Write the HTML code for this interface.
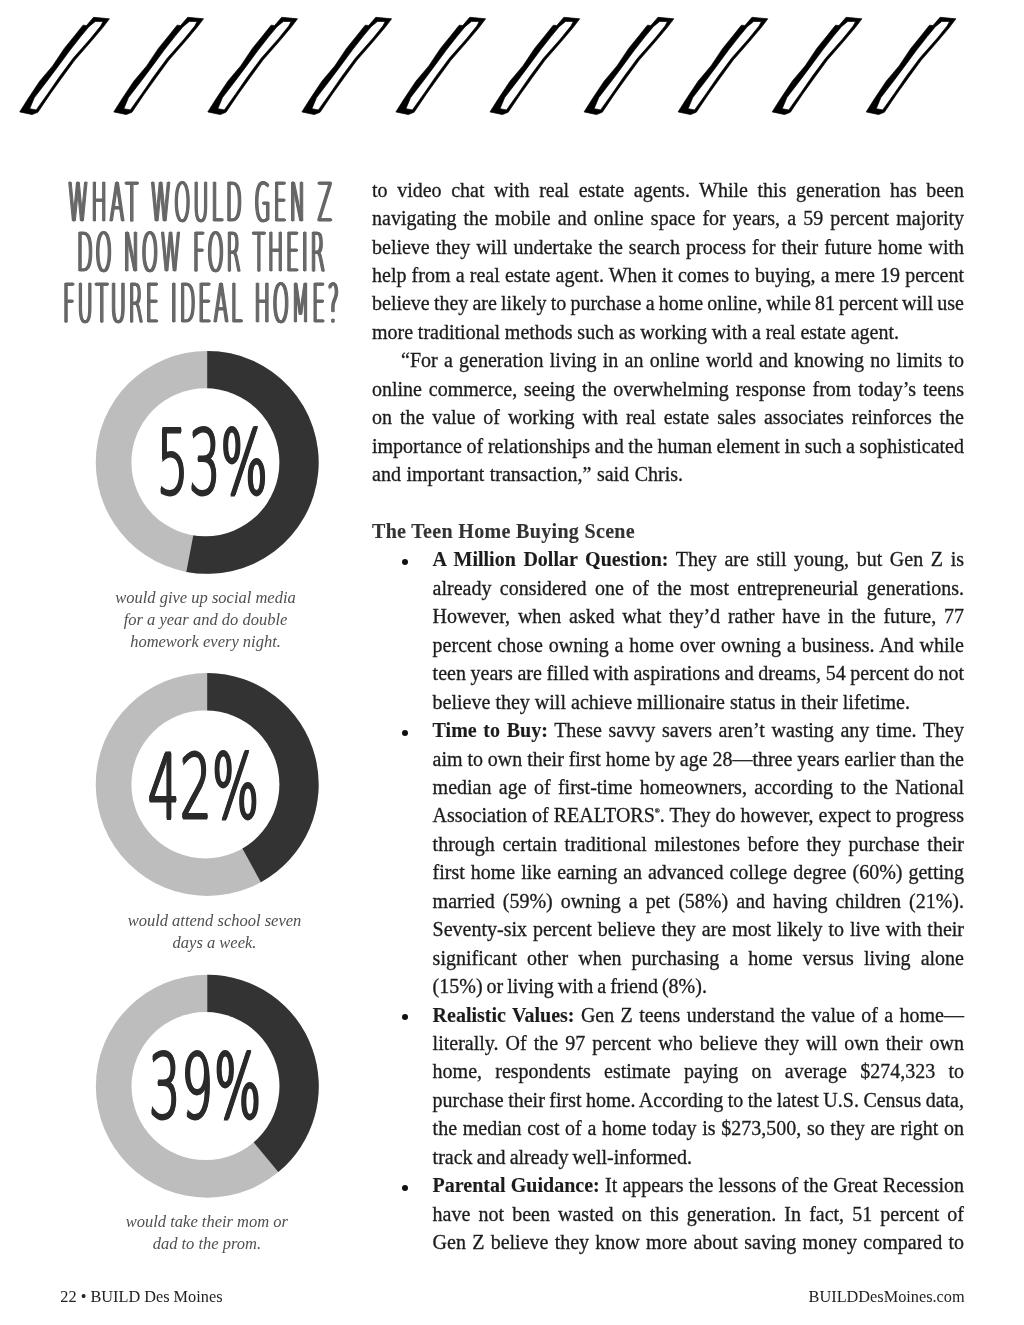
<!DOCTYPE html><html lang="en"><head><meta charset="utf-8"><title>BUILD Des Moines</title><style>
html,body{margin:0;padding:0;background:#fff;}
body{width:1024px;height:1325px;position:relative;overflow:hidden;font-family:"Liberation Serif",serif;color:#1c1c1c;}
.ln{position:absolute;white-space:nowrap;font-size:20px;line-height:28px;height:28px;-webkit-text-stroke:0.3px #1c1c1c;}
.ln b{font-weight:bold;-webkit-text-stroke:0.12px #1c1c1c;}
.hd{color:#333;}
.hd b{-webkit-text-stroke:0.12px #333;}
.ln sup{font-size:6.5px;line-height:0;vertical-align:9px;}
.bul{position:absolute;width:6px;height:6px;border-radius:50%;background:#111;left:402.3px;}
.hl{position:absolute;font-family:"DejaVu Sans Light","DejaVu Sans","Liberation Sans",sans-serif;font-weight:200;color:#666;white-space:nowrap;font-size:54px;line-height:60px;height:60px;transform-origin:0 0;-webkit-text-stroke:1.15px #666;text-shadow:1.6px 0 0 #666,-1.6px 0 0 #666,3.2px 0 0 #666,-3.2px 0 0 #666;}
.pc{position:absolute;font-family:"DejaVu Sans Light","DejaVu Sans","Liberation Sans",sans-serif;font-weight:200;color:#2a2a2a;white-space:nowrap;font-size:89px;line-height:100px;height:100px;transform-origin:0 0;-webkit-text-stroke:2.9px #2a2a2a;text-shadow:2.4px 0 0 #2a2a2a,-2.4px 0 0 #2a2a2a;}
.cap{position:absolute;left:56px;width:300px;text-align:center;font-style:italic;color:#4f4f4f;font-size:16.5px;line-height:21.8px;white-space:nowrap;}
.ft{position:absolute;font-size:16.3px;line-height:22px;white-space:nowrap;color:#222;}
svg{position:absolute;left:0;top:0;}
#pg{position:absolute;left:0;top:0;width:1024px;height:1325px;will-change:transform;}
</style></head><body><div id="pg">
<svg width="1024" height="1325" viewBox="0 0 1024 1325"><path transform="translate(-0.8,0)" fill="#000" stroke="#000" stroke-width="0.7" stroke-linejoin="round" fill-rule="evenodd" d="M94.4,17.3 L110.2,18.8 L103.8,27.3 L92.0,41.3 L75.6,60.1 L62.7,77.7 L51.0,94.0 L38.7,112.2 L32.9,114.6 L20.5,111.9 L28.8,98.8 L40.5,81.2 L53.4,65.9 L65.1,48.4 L75.6,35.5 L83.8,25.2 L87.3,25.5Z M96.1,21.4 L103.8,21.6 L101.4,26.1 L90.9,39.0 L73.9,58.3 L60.4,76.5 L48.7,93.5 L37.0,109.9 L30.5,108.7 L35.2,97.6 L48.7,80.0 L59.2,65.9 L70.9,50.1 L81.5,36.6 L89.7,26.7Z"/><path transform="translate(93.3,0)" fill="#000" stroke="#000" stroke-width="0.7" stroke-linejoin="round" fill-rule="evenodd" d="M94.4,17.3 L110.2,18.8 L103.8,27.3 L92.0,41.3 L75.6,60.1 L62.7,77.7 L51.0,94.0 L38.7,112.2 L32.9,114.6 L20.5,111.9 L28.8,98.8 L40.5,81.2 L53.4,65.9 L65.1,48.4 L75.6,35.5 L83.8,25.2 L87.3,25.5Z M96.1,21.4 L103.8,21.6 L101.4,26.1 L90.9,39.0 L73.9,58.3 L60.4,76.5 L48.7,93.5 L37.0,109.9 L30.5,108.7 L35.2,97.6 L48.7,80.0 L59.2,65.9 L70.9,50.1 L81.5,36.6 L89.7,26.7Z"/><path transform="translate(187.3,0)" fill="#000" stroke="#000" stroke-width="0.7" stroke-linejoin="round" fill-rule="evenodd" d="M94.4,17.3 L110.2,18.8 L103.8,27.3 L92.0,41.3 L75.6,60.1 L62.7,77.7 L51.0,94.0 L38.7,112.2 L32.9,114.6 L20.5,111.9 L28.8,98.8 L40.5,81.2 L53.4,65.9 L65.1,48.4 L75.6,35.5 L83.8,25.2 L87.3,25.5Z M96.1,21.4 L103.8,21.6 L101.4,26.1 L90.9,39.0 L73.9,58.3 L60.4,76.5 L48.7,93.5 L37.0,109.9 L30.5,108.7 L35.2,97.6 L48.7,80.0 L59.2,65.9 L70.9,50.1 L81.5,36.6 L89.7,26.7Z"/><path transform="translate(281.4,0)" fill="#000" stroke="#000" stroke-width="0.7" stroke-linejoin="round" fill-rule="evenodd" d="M94.4,17.3 L110.2,18.8 L103.8,27.3 L92.0,41.3 L75.6,60.1 L62.7,77.7 L51.0,94.0 L38.7,112.2 L32.9,114.6 L20.5,111.9 L28.8,98.8 L40.5,81.2 L53.4,65.9 L65.1,48.4 L75.6,35.5 L83.8,25.2 L87.3,25.5Z M96.1,21.4 L103.8,21.6 L101.4,26.1 L90.9,39.0 L73.9,58.3 L60.4,76.5 L48.7,93.5 L37.0,109.9 L30.5,108.7 L35.2,97.6 L48.7,80.0 L59.2,65.9 L70.9,50.1 L81.5,36.6 L89.7,26.7Z"/><path transform="translate(375.4,0)" fill="#000" stroke="#000" stroke-width="0.7" stroke-linejoin="round" fill-rule="evenodd" d="M94.4,17.3 L110.2,18.8 L103.8,27.3 L92.0,41.3 L75.6,60.1 L62.7,77.7 L51.0,94.0 L38.7,112.2 L32.9,114.6 L20.5,111.9 L28.8,98.8 L40.5,81.2 L53.4,65.9 L65.1,48.4 L75.6,35.5 L83.8,25.2 L87.3,25.5Z M96.1,21.4 L103.8,21.6 L101.4,26.1 L90.9,39.0 L73.9,58.3 L60.4,76.5 L48.7,93.5 L37.0,109.9 L30.5,108.7 L35.2,97.6 L48.7,80.0 L59.2,65.9 L70.9,50.1 L81.5,36.6 L89.7,26.7Z"/><path transform="translate(469.5,0)" fill="#000" stroke="#000" stroke-width="0.7" stroke-linejoin="round" fill-rule="evenodd" d="M94.4,17.3 L110.2,18.8 L103.8,27.3 L92.0,41.3 L75.6,60.1 L62.7,77.7 L51.0,94.0 L38.7,112.2 L32.9,114.6 L20.5,111.9 L28.8,98.8 L40.5,81.2 L53.4,65.9 L65.1,48.4 L75.6,35.5 L83.8,25.2 L87.3,25.5Z M96.1,21.4 L103.8,21.6 L101.4,26.1 L90.9,39.0 L73.9,58.3 L60.4,76.5 L48.7,93.5 L37.0,109.9 L30.5,108.7 L35.2,97.6 L48.7,80.0 L59.2,65.9 L70.9,50.1 L81.5,36.6 L89.7,26.7Z"/><path transform="translate(563.6,0)" fill="#000" stroke="#000" stroke-width="0.7" stroke-linejoin="round" fill-rule="evenodd" d="M94.4,17.3 L110.2,18.8 L103.8,27.3 L92.0,41.3 L75.6,60.1 L62.7,77.7 L51.0,94.0 L38.7,112.2 L32.9,114.6 L20.5,111.9 L28.8,98.8 L40.5,81.2 L53.4,65.9 L65.1,48.4 L75.6,35.5 L83.8,25.2 L87.3,25.5Z M96.1,21.4 L103.8,21.6 L101.4,26.1 L90.9,39.0 L73.9,58.3 L60.4,76.5 L48.7,93.5 L37.0,109.9 L30.5,108.7 L35.2,97.6 L48.7,80.0 L59.2,65.9 L70.9,50.1 L81.5,36.6 L89.7,26.7Z"/><path transform="translate(657.6,0)" fill="#000" stroke="#000" stroke-width="0.7" stroke-linejoin="round" fill-rule="evenodd" d="M94.4,17.3 L110.2,18.8 L103.8,27.3 L92.0,41.3 L75.6,60.1 L62.7,77.7 L51.0,94.0 L38.7,112.2 L32.9,114.6 L20.5,111.9 L28.8,98.8 L40.5,81.2 L53.4,65.9 L65.1,48.4 L75.6,35.5 L83.8,25.2 L87.3,25.5Z M96.1,21.4 L103.8,21.6 L101.4,26.1 L90.9,39.0 L73.9,58.3 L60.4,76.5 L48.7,93.5 L37.0,109.9 L30.5,108.7 L35.2,97.6 L48.7,80.0 L59.2,65.9 L70.9,50.1 L81.5,36.6 L89.7,26.7Z"/><path transform="translate(751.7,0)" fill="#000" stroke="#000" stroke-width="0.7" stroke-linejoin="round" fill-rule="evenodd" d="M94.4,17.3 L110.2,18.8 L103.8,27.3 L92.0,41.3 L75.6,60.1 L62.7,77.7 L51.0,94.0 L38.7,112.2 L32.9,114.6 L20.5,111.9 L28.8,98.8 L40.5,81.2 L53.4,65.9 L65.1,48.4 L75.6,35.5 L83.8,25.2 L87.3,25.5Z M96.1,21.4 L103.8,21.6 L101.4,26.1 L90.9,39.0 L73.9,58.3 L60.4,76.5 L48.7,93.5 L37.0,109.9 L30.5,108.7 L35.2,97.6 L48.7,80.0 L59.2,65.9 L70.9,50.1 L81.5,36.6 L89.7,26.7Z"/><path transform="translate(845.7,0)" fill="#000" stroke="#000" stroke-width="0.7" stroke-linejoin="round" fill-rule="evenodd" d="M94.4,17.3 L110.2,18.8 L103.8,27.3 L92.0,41.3 L75.6,60.1 L62.7,77.7 L51.0,94.0 L38.7,112.2 L32.9,114.6 L20.5,111.9 L28.8,98.8 L40.5,81.2 L53.4,65.9 L65.1,48.4 L75.6,35.5 L83.8,25.2 L87.3,25.5Z M96.1,21.4 L103.8,21.6 L101.4,26.1 L90.9,39.0 L73.9,58.3 L60.4,76.5 L48.7,93.5 L37.0,109.9 L30.5,108.7 L35.2,97.6 L48.7,80.0 L59.2,65.9 L70.9,50.1 L81.5,36.6 L89.7,26.7Z"/><circle cx="207.2" cy="462.4" r="111.45" fill="#bdbdbd"/><path d="M207.2,462.4 L207.2,350.95 A111.45,111.45 0 1 1 186.32,571.88 Z" fill="#333333"/><circle cx="205.40" cy="462.30" r="74.0" fill="#ffffff"/><circle cx="207.2" cy="784.5" r="111.45" fill="#bdbdbd"/><path d="M207.2,784.5 L207.2,673.05 A111.45,111.45 0 0 1 260.89,882.16 Z" fill="#333333"/><circle cx="205.40" cy="784.40" r="74.0" fill="#ffffff"/><circle cx="207.3" cy="1086.2" r="111.45" fill="#bdbdbd"/><path d="M207.3,1086.2 L207.3,974.75 A111.45,111.45 0 0 1 278.34,1172.07 Z" fill="#333333"/><circle cx="205.50" cy="1086.10" r="74.0" fill="#ffffff"/></svg>
<div class="hl" style="top:172.72px;left:68.1px;letter-spacing:8.17px;transform:scaleX(0.38)">WHAT WOULD GEN Z</div>
<div class="hl" style="top:222.82px;left:76.7px;letter-spacing:7.20px;transform:scaleX(0.38)">DO NOW FOR THEIR</div>
<div class="hl" style="top:273.72px;left:62.9px;letter-spacing:7.39px;transform:scaleX(0.38)">FUTURE IDEAL HOME?</div>
<div class="pc" style="top:412.51px;left:157.0px;letter-spacing:1.46px;transform:scaleX(0.55)">53%</div>
<div class="pc" style="top:736.91px;left:147.5px;letter-spacing:1.83px;transform:scaleX(0.55)">42%</div>
<div class="pc" style="top:1037.21px;left:149.3px;letter-spacing:2.78px;transform:scaleX(0.55)">39%</div>
<div class="cap" style="top:587.1px;left:55.5px">would give up social media<br>for a year and do double<br>homework every night.</div>
<div class="cap" style="top:909.8px;left:64.5px">would attend school seven<br>days a week.</div>
<div class="cap" style="top:1211.0px;left:56.9px">would take their mom or<br>dad to the prom.</div>
<div class="ln" style="left:372.0px;top:175.65px;word-spacing:4.575px;">to video chat with real estate agents. While this generation has been</div>
<div class="ln" style="left:372.0px;top:204.10px;word-spacing:2.118px;">navigating the mobile and online space for years, a 59 percent majority</div>
<div class="ln" style="left:372.0px;top:232.54px;word-spacing:1.060px;">believe they will undertake the search process for their future home with</div>
<div class="ln" style="left:372.0px;top:260.99px;word-spacing:0.185px;">help from a real estate agent. When it comes to buying, a mere 19 percent</div>
<div class="ln" style="left:372.0px;top:289.43px;word-spacing:-0.856px;">believe they are likely to purchase a home online, while 81 percent will use</div>
<div class="ln" style="left:372.0px;top:317.88px;word-spacing:-0.230px;">more traditional methods such as working with a real estate agent.</div>
<div class="ln" style="left:401.0px;top:346.33px;word-spacing:1.275px;">“For a generation living in an online world and knowing no limits to</div>
<div class="ln" style="left:372.0px;top:374.77px;word-spacing:1.867px;">online commerce, seeing the overwhelming response from today’s teens</div>
<div class="ln" style="left:372.0px;top:403.22px;word-spacing:2.876px;">on the value of working with real estate sales associates reinforces the</div>
<div class="ln" style="left:372.0px;top:431.66px;word-spacing:-0.339px;">importance of relationships and the human element in such a sophisticated</div>
<div class="ln" style="left:372.0px;top:460.11px;word-spacing:0.543px;">and important transaction,” said Chris.</div>
<div class="ln hd" style="left:372.0px;top:517.00px;letter-spacing:0.328px;"><b>The Teen Home Buying Scene</b></div>
<div class="ln" style="left:432.6px;top:545.45px;word-spacing:2.620px;"><b>A Million Dollar Question:</b> They are still young, but Gen Z is</div>
<div class="bul" style="top:559.0px"></div>
<div class="ln" style="left:432.6px;top:573.89px;word-spacing:3.403px;">already considered one of the most entrepreneurial generations.</div>
<div class="ln" style="left:432.6px;top:602.34px;word-spacing:2.793px;">However, when asked what they’d rather have in the future, 77</div>
<div class="ln" style="left:432.6px;top:630.79px;word-spacing:0.873px;">percent chose owning a home over owning a business. And while</div>
<div class="ln" style="left:432.6px;top:659.23px;word-spacing:-0.361px;">teen years are filled with aspirations and dreams, 54 percent do not</div>
<div class="ln" style="left:432.6px;top:687.68px;word-spacing:0.040px;">believe they will achieve millionaire status in their lifetime.</div>
<div class="ln" style="left:432.6px;top:716.12px;word-spacing:1.685px;"><b>Time to Buy:</b> These savvy savers aren’t wasting any time. They</div>
<div class="bul" style="top:729.7px"></div>
<div class="ln" style="left:432.6px;top:744.57px;word-spacing:-0.146px;">aim to own their first home by age 28—three years earlier than the</div>
<div class="ln" style="left:432.6px;top:773.02px;word-spacing:2.349px;">median age of first-time homeowners, according to the National</div>
<div class="ln" style="left:432.6px;top:801.46px;word-spacing:-0.013px;">Association of REALTORS<sup>®</sup>. They do however, expect to progress</div>
<div class="ln" style="left:432.6px;top:829.91px;word-spacing:2.684px;">through certain traditional milestones before they purchase their</div>
<div class="ln" style="left:432.6px;top:858.35px;word-spacing:0.982px;">first home like earning an advanced college degree (60%) getting</div>
<div class="ln" style="left:432.6px;top:886.80px;word-spacing:3.013px;">married (59%) owning a pet (58%) and having children (21%).</div>
<div class="ln" style="left:432.6px;top:915.25px;word-spacing:0.932px;">Seventy-six percent believe they are most likely to live with their</div>
<div class="ln" style="left:432.6px;top:943.69px;word-spacing:5.050px;">significant other when purchasing a home versus living alone</div>
<div class="ln" style="left:432.6px;top:972.14px;word-spacing:-1.031px;">(15%) or living with a friend (8%).</div>
<div class="ln" style="left:432.6px;top:1000.58px;word-spacing:1.373px;"><b>Realistic Values:</b> Gen Z teens understand the value of a home—</div>
<div class="bul" style="top:1014.1px"></div>
<div class="ln" style="left:432.6px;top:1029.03px;word-spacing:2.076px;">literally. Of the 97 percent who believe they will own their own</div>
<div class="ln" style="left:432.6px;top:1057.48px;word-spacing:8.231px;">home, respondents estimate paying on average $274,323 to</div>
<div class="ln" style="left:432.6px;top:1085.92px;word-spacing:-0.515px;">purchase their first home. According to the latest U.S. Census data,</div>
<div class="ln" style="left:432.6px;top:1114.37px;word-spacing:0.671px;">the median cost of a home today is $273,500, so they are right on</div>
<div class="ln" style="left:432.6px;top:1142.81px;word-spacing:-0.903px;">track and already well-informed.</div>
<div class="ln" style="left:432.6px;top:1171.26px;word-spacing:0.270px;"><b>Parental Guidance:</b> It appears the lessons of the Great Recession</div>
<div class="bul" style="top:1184.8px"></div>
<div class="ln" style="left:432.6px;top:1199.71px;word-spacing:3.123px;">have not been wasted on this generation. In fact, 51 percent of</div>
<div class="ln" style="left:432.6px;top:1228.15px;word-spacing:1.265px;">Gen Z believe they know more about saving money compared to</div>
<div class="ft" style="left:60.3px;top:1286.00px">22 • BUILD Des Moines</div>
<div class="ft" style="right:59.4px;top:1286.00px">BUILDDesMoines.com</div>
</div></body></html>
